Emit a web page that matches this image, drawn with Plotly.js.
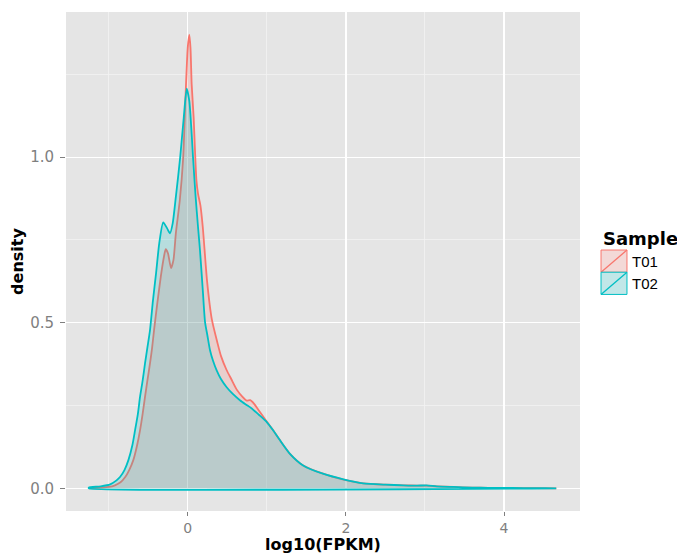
<!DOCTYPE html>
<html>
<head>
<meta charset="utf-8">
<script src="https://cdn.plot.ly/plotly-3.0.1.min.js"></script>
<style>
html,body{margin:0;padding:0;background:#ffffff;}
#chart{width:677px;height:554px;}
</style>
</head>
<body>
<div id="chart"></div>
<script>
// Series names and colours
const sampleNames = ["T01", "T02"];
const sampleColors = ["#F8766D", "#00BFC4"];
const sampleFills = ["rgba(248,118,109,0.2)", "rgba(0,191,196,0.2)"];

// T01 density (log10(FPKM) vs density)
const xT01 = [-1.25,-1.1,-1.0,-0.92,-0.85,-0.79,-0.74,-0.688,-0.64,-0.603,-0.57,-0.54,-0.51,-0.477,-0.45,-0.426,-0.384,-0.34,-0.3,-0.278,-0.25,-0.211,-0.18,-0.15,-0.1,-0.057,-0.03,0.0,0.02,0.035,0.05,0.075,0.092,0.11,0.13,0.16,0.19,0.245,0.305,0.375,0.42,0.49,0.55,0.62,0.69,0.746,0.79,0.84,0.89,0.98,1.08,1.167,1.29,1.46,1.71,1.97,2.22,2.5,2.73,2.9,3.02,3.15,3.36,3.6,3.8,4.1,4.4,4.66];
const yT01 = [0,0.002,0.004,0.009,0.018,0.034,0.055,0.085,0.13,0.175,0.225,0.276,0.325,0.377,0.425,0.477,0.56,0.64,0.70,0.722,0.71,0.665,0.69,0.77,0.87,1.0,1.17,1.33,1.37,1.33,1.22,1.12,1.02,0.93,0.89,0.855,0.79,0.625,0.51,0.44,0.40,0.358,0.33,0.298,0.277,0.265,0.266,0.255,0.238,0.208,0.175,0.145,0.105,0.069,0.044,0.026,0.015,0.011,0.009,0.008,0.008,0.006,0.004,0.002,0.0015,0.001,0.0005,0];

// T02 density
const xT02 = [-1.25,-1.1,-0.98,-0.9,-0.856,-0.8,-0.75,-0.7,-0.666,-0.63,-0.603,-0.57,-0.54,-0.51,-0.477,-0.44,-0.4,-0.36,-0.31,-0.26,-0.224,-0.19,-0.15,-0.095,-0.05,-0.013,0.02,0.05,0.067,0.1,0.13,0.155,0.19,0.219,0.25,0.282,0.32,0.366,0.42,0.49,0.57,0.66,0.73,0.81,0.9,1.0,1.08,1.167,1.29,1.46,1.71,1.97,2.22,2.5,2.73,2.9,3.02,3.15,3.36,3.6,3.8,4.1,4.4,4.66];
const yT02 = [0.002,0.006,0.012,0.024,0.034,0.055,0.085,0.13,0.175,0.225,0.276,0.325,0.377,0.425,0.477,0.566,0.65,0.74,0.803,0.785,0.77,0.80,0.88,1.0,1.12,1.207,1.17,1.07,1.0,0.88,0.79,0.719,0.60,0.502,0.46,0.417,0.385,0.356,0.33,0.306,0.285,0.266,0.254,0.241,0.222,0.200,0.175,0.145,0.105,0.069,0.044,0.027,0.015,0.011,0.009,0.008,0.009,0.006,0.004,0.002,0.0015,0.001,0.0005,0];

// Axis ticks
const xTickVals = [0, 2, 4];
const xTickText = ["0", "2", "4"];
const yTickVals = [0, 0.5, 1.0];
const yTickText = ["0.0", "0.5", "1.0"];

function closed(xs, ys) {
  // close the density polygon along the baseline, as ggplot does
  return {
    x: xs.concat([xs[xs.length - 1], xs[0], xs[0]]),
    y: ys.concat([0, 0, ys[0]])
  };
}

const traces = [];
// T01: filled to zero (its baseline outline is hidden under T02's in the original)
traces.push({
  x: xT01, y: yT01, name: sampleNames[0], type: "scatter", mode: "lines",
  fill: "tozeroy", fillcolor: sampleFills[0],
  line: {color: sampleColors[0], width: 1.8, shape: "spline", smoothing: 0.6},
  hoverinfo: "skip", showlegend: false
});
// T02: closed polygon incl. baseline outline
const p2 = closed(xT02, yT02);
traces.push({
  x: p2.x, y: p2.y, name: sampleNames[1], type: "scatter", mode: "lines",
  fill: "toself", fillcolor: sampleFills[1],
  line: {color: sampleColors[1], width: 1.8, shape: "spline", smoothing: 0.6},
  hoverinfo: "skip", showlegend: false
});

// ggplot-style legend keys (square with fill, outline and diagonal)
const keyX0 = 1.0409, keyX1 = 1.0914;
const keyTop = 0.523, keyH = 0.0445;
const shapes = [];
const annotations = [{
  xref: "paper", yref: "paper", x: keyX0, y: 0.547, xanchor: "left", yanchor: "middle",
  text: "<b>Sample</b>", showarrow: false,
  font: {family: "DejaVu Sans, sans-serif", size: 18, color: "#000000"}
}];
sampleNames.forEach(function (nm, i) {
  const y1 = keyTop - i * keyH, y0 = y1 - keyH;
  shapes.push({type: "rect", xref: "paper", yref: "paper", x0: keyX0, x1: keyX1, y0: y0, y1: y1,
    fillcolor: "#F2F2F2", line: {width: 0}, layer: "above"});
  shapes.push({type: "rect", xref: "paper", yref: "paper", x0: keyX0, x1: keyX1, y0: y0, y1: y1,
    fillcolor: sampleFills[i], line: {color: sampleColors[i], width: 1}, layer: "above"});
  shapes.push({type: "line", xref: "paper", yref: "paper", x0: keyX0, x1: keyX1, y0: y0, y1: y1,
    line: {color: sampleColors[i], width: 1.3}, layer: "above"});
  annotations.push({
    xref: "paper", yref: "paper", x: keyX1 + 0.006, y: (y0 + y1) / 2, xanchor: "left", yanchor: "middle",
    text: nm, showarrow: false,
    font: {family: "Liberation Sans, Arial, sans-serif", size: 15, color: "#000000"}
  });
});

const layout = {
  width: 677, height: 554,
  margin: {l: 66, r: 97, t: 12, b: 43, pad: 0},
  paper_bgcolor: "#ffffff",
  plot_bgcolor: "#E5E5E5",
  font: {family: "DejaVu Sans, sans-serif", color: "#000000"},
  xaxis: {
    range: [-1.539, 4.96],
    tickmode: "array", tickvals: xTickVals, ticktext: xTickText,
    ticks: "outside", ticklen: 4, tickwidth: 1, tickcolor: "#7F7F7F",
    ticklabelstandoff: 0,
    tickfont: {family: "DejaVu Sans, sans-serif", size: 14, color: "#7F7F7F"},
    showgrid: true, gridcolor: "#FFFFFF", gridwidth: 1.3,
    minor: {tickmode: "array", tickvals: [-1, 1, 3], showgrid: true, gridcolor: "#F2F2F2", gridwidth: 0.8, ticks: ""},
    zeroline: false, showline: false,
    title: {text: "<b>log10(FPKM)</b>", font: {family: "DejaVu Sans, sans-serif", size: 16, color: "#000000"}, standoff: 7},
    automargin: false, fixedrange: true
  },
  yaxis: {
    range: [-0.0686, 1.4385],
    tickmode: "array", tickvals: yTickVals, ticktext: yTickText,
    ticks: "outside", ticklen: 5, tickwidth: 1, tickcolor: "#7F7F7F",
    ticklabelstandoff: 3,
    tickfont: {family: "DejaVu Sans, sans-serif", size: 15, color: "#7F7F7F"},
    showgrid: true, gridcolor: "#FFFFFF", gridwidth: 1.3,
    minor: {tickmode: "array", tickvals: [0.25, 0.75, 1.25], showgrid: true, gridcolor: "#F2F2F2", gridwidth: 0.8, ticks: ""},
    zeroline: false, showline: false,
    title: {text: "<b>density</b>", font: {family: "DejaVu Sans, sans-serif", size: 16, color: "#000000"}, standoff: 2},
    automargin: false, fixedrange: true
  },
  showlegend: false,
  shapes: shapes,
  annotations: annotations
};

Plotly.newPlot("chart", traces, layout, {displayModeBar: false, staticPlot: true});
</script>
</body>
</html>
